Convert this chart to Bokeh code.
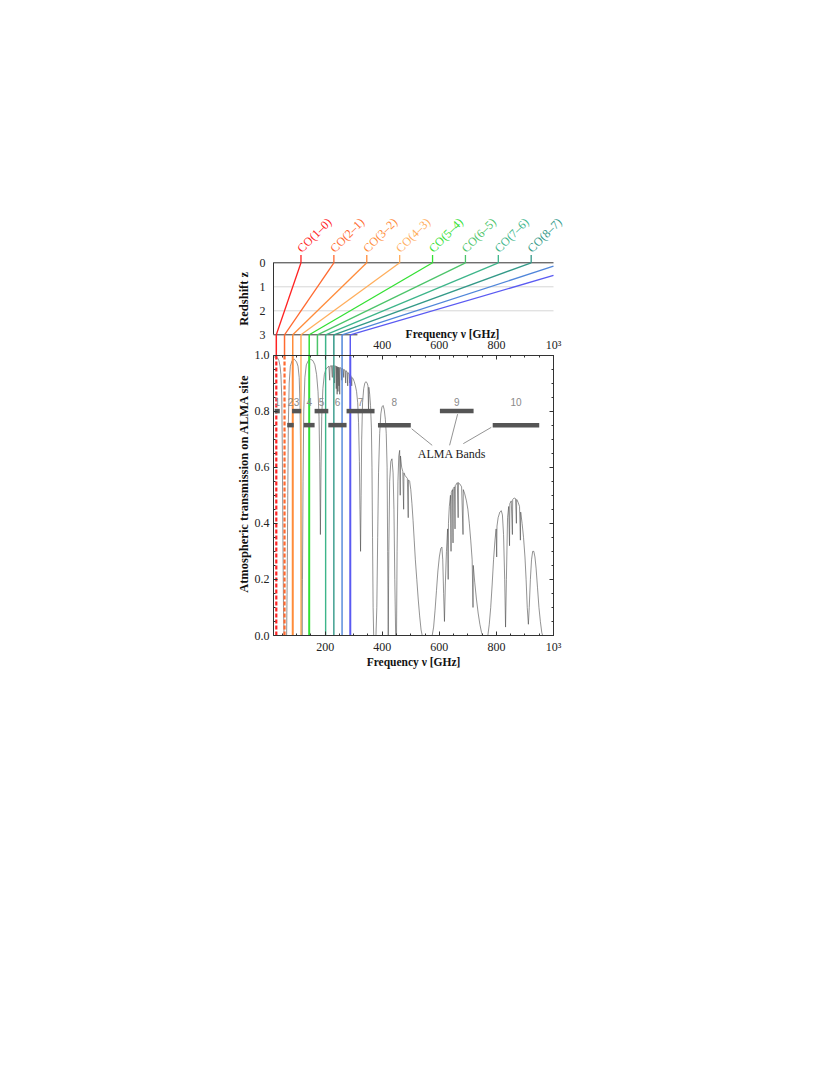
import math
from bokeh.plotting import figure
from bokeh.models import (Range1d, LinearAxis, SingleIntervalTicker, Label,
                          PrintfTickFormatter)
from bokeh.core.properties import value
from bokeh.embed import file_html
from bokeh.resources import INLINE

# ---------------- data ----------------
co_labels = ["CO(1–0)", "CO(2–1)", "CO(3–2)", "CO(4–3)",
             "CO(5–4)", "CO(6–5)", "CO(7–6)", "CO(8–7)"]
co_rest_ghz = [115.271, 230.538, 345.796, 461.041, 576.268,
               691.473, 806.652, 921.800, 1036.912, 1151.985]
z_top_panel_max = 3.0
redshift_grid = [1, 2]
co_colors = ["#ff2222", "#ff6a30", "#ff8c3a", "#ffae5c", "#33e033",
             "#4cc46a", "#3db58a", "#339988", "#5086da", "#5a5af2"]

atm_freq = [
    20, 24, 28, 33, 38, 42, 45, 48, 50, 52, 54, 56,
    65, 67, 69, 71, 74, 78, 84, 92, 100, 105, 109, 112, 115, 117, 118.7,
    120.5, 122.5, 125, 129, 134, 141, 149, 157, 164, 170, 175, 178.5, 181,
    183.3, 185.5, 188, 192, 197, 203, 210,
    213, 216, 217, 222, 225, 226, 230, 233, 234, 237, 239, 240, 242, 243,
    245, 246, 248, 249, 251, 252, 256, 258, 259, 263, 265, 266, 270, 272,
    273, 277, 279, 280, 284, 286, 287, 291, 293, 294, 298, 302, 306, 310,
    314, 317, 320, 322, 324, 326, 328, 331, 335, 339, 343, 347, 350, 352,
    353, 356, 359, 362, 364, 366, 368, 370,
    378, 381, 384, 387, 391, 395, 399, 403, 407, 411, 414, 417, 419, 421,
    423, 426, 430, 434, 438, 441, 444, 447, 450, 452, 455, 458, 461, 463,
    464, 468, 472, 475, 476, 480, 484, 488, 491, 492, 496, 500, 504, 508,
    512, 516, 521, 526, 531, 536, 540,
    575, 580, 585, 590, 595, 600, 605, 609, 612, 615, 618, 621, 625, 629,
    631, 632, 635, 639, 641, 642, 646, 648, 649, 653, 655, 656, 660, 663,
    666, 667, 672, 678, 683, 684, 689, 695, 700, 705, 710, 715, 718, 719,
    724, 730, 736, 742, 748, 752,
    770, 775, 780, 785, 790, 795, 799, 801, 802, 806, 812, 817, 821, 825,
    829, 832, 835, 839, 843, 846, 847, 852, 856, 857, 862, 867, 870, 871,
    876, 881, 884, 885, 890, 895, 900, 904, 908, 912, 915, 919, 923, 927,
    931, 935, 939, 944, 949, 954, 959, 962, 1000]
atm_trans = [
    0.99, 0.995, 0.995, 0.99, 0.98, 0.96, 0.93, 0.85, 0.65, 0.35, 0.10, 0.0,
    0.0, 0.20, 0.50, 0.75, 0.90, 0.96, 0.98, 0.985, 0.975, 0.96, 0.92, 0.82,
    0.55, 0.20, 0.0,
    0.20, 0.55, 0.80, 0.92, 0.965, 0.98, 0.985, 0.98, 0.965, 0.93, 0.87,
    0.78, 0.62,
    0.36, 0.60, 0.78, 0.88, 0.93, 0.95, 0.958,
    0.96, 0.91, 0.96, 0.962, 0.92, 0.962, 0.963, 0.90, 0.962, 0.96, 0.88,
    0.96, 0.86, 0.958,
    0.87, 0.957, 0.89, 0.956, 0.86, 0.955, 0.953, 0.91, 0.952, 0.95, 0.92,
    0.948, 0.945, 0.90,
    0.944, 0.94, 0.89, 0.937, 0.933, 0.90, 0.93, 0.925, 0.89, 0.92, 0.915,
    0.905, 0.89, 0.87,
    0.83, 0.76, 0.62, 0.45, 0.30, 0.50, 0.70, 0.83, 0.88, 0.90, 0.905, 0.90,
    0.89, 0.80,
    0.885, 0.86, 0.82, 0.74, 0.60, 0.35, 0.10, 0.0,
    0.0, 0.10, 0.35, 0.58, 0.72, 0.79, 0.815, 0.82, 0.805, 0.77, 0.72, 0.60,
    0.30, 0.0,
    0.30, 0.55, 0.62, 0.63, 0.58, 0.45, 0.20, 0.0, 0.0, 0.30, 0.55, 0.64,
    0.66, 0.50,
    0.64, 0.60, 0.585, 0.45, 0.58, 0.57, 0.565, 0.56, 0.42, 0.555, 0.55,
    0.52, 0.47, 0.41,
    0.34, 0.27, 0.20, 0.13, 0.07, 0.02, 0.0,
    0.0, 0.03, 0.09, 0.16, 0.23, 0.28, 0.31, 0.315, 0.27, 0.15, 0.05, 0.18,
    0.30, 0.38,
    0.20, 0.40, 0.46, 0.50, 0.30, 0.51, 0.52, 0.33, 0.525, 0.53, 0.38, 0.535,
    0.54, 0.545,
    0.42, 0.545, 0.54, 0.53, 0.36, 0.52, 0.505, 0.48, 0.45, 0.40, 0.34, 0.27,
    0.10, 0.25,
    0.19, 0.13, 0.08, 0.04, 0.01, 0.0,
    0.0, 0.04, 0.10, 0.18, 0.27, 0.34, 0.38, 0.28, 0.39, 0.42, 0.44, 0.445,
    0.43, 0.36,
    0.20, 0.03, 0.20, 0.42, 0.46, 0.32, 0.47, 0.48, 0.36, 0.485, 0.49, 0.488,
    0.40, 0.485,
    0.475, 0.46, 0.34, 0.44, 0.40, 0.35, 0.28, 0.20, 0.10, 0.04, 0.10, 0.20,
    0.27, 0.30,
    0.30, 0.28, 0.24, 0.17, 0.10, 0.05, 0.01, 0.0, 0.0]

band_names = ["1", "2", "3", "4", "5", "6", "7", "8", "9", "10"]
band_lo_ghz = [23, 67, 84, 125, 163, 211, 275, 385, 602, 787]
band_hi_ghz = [41, 90, 116, 163, 211, 275, 373, 500, 720, 950]
band_level = [0.80, 0.75, 0.80, 0.75, 0.80, 0.75, 0.80, 0.75, 0.80, 0.75]
band_label_level = 0.833

alma_text = "ALMA Bands"
alma_text_pos = (644, 0.647)
leader_x0 = [503, 664, 782]
leader_y0 = [0.737, 0.789, 0.742]
leader_x1 = [575, 636, 684]
leader_y1 = [0.678, 0.678, 0.684]

x_ticks_top_labels = {200: "", 1000: "10³"}
x_ticks_bottom_labels = {1000: "10³"}

# ---------------- layout (canvas pixels) ----------------
X_START, X_END = 19.0, 1000.0          # frequency span of both panels
PX_X_START, PX_X_END = 273.0, 553.0
FRAME_L, FRAME_R, FRAME_T, FRAME_B = 233, 565, 192, 676
PX_PER_GHZ = (PX_X_END - PX_X_START) / (X_END - X_START)
Y_T0, PX_PER_T = 635.0, 280.5          # transmission scale
Y_Z0, PX_PER_Z = 262.3, 24.0           # redshift scale


def x_of_px(px):
    return X_START + (px - PX_X_START) / PX_PER_GHZ


def t_of_px(py):
    return (Y_T0 - py) / PX_PER_T


def z_of_px(py):
    return (py - Y_Z0) / PX_PER_Z


def t_of_z(z):
    return t_of_px(Y_Z0 + z * PX_PER_Z)


SERIF = "Liberation Serif"
INK = "#333333"

p = figure(width=600, height=680, output_backend="svg", toolbar_location=None,
           x_range=Range1d(x_of_px(FRAME_L), x_of_px(FRAME_R)),
           y_range=Range1d(t_of_px(FRAME_B), t_of_px(FRAME_T)),
           x_axis_type=None, y_axis_type=None,
           min_border_left=FRAME_L, min_border_right=600 - FRAME_R,
           min_border_top=FRAME_T, min_border_bottom=680 - FRAME_B)
p.extra_y_ranges = {"z": Range1d(start=z_of_px(FRAME_B), end=z_of_px(FRAME_T))}
p.outline_line_color = None
p.background_fill_color = "white"
p.border_fill_color = "white"


def style_axis(ax, tick_in=4, minor_in=2):
    ax.major_tick_in = tick_in
    ax.major_tick_out = 0
    ax.minor_tick_in = minor_in
    ax.minor_tick_out = 0
    ax.axis_line_color = INK
    ax.major_tick_line_color = INK
    ax.minor_tick_line_color = INK
    ax.major_label_text_font = SERIF
    ax.major_label_text_font_size = "12px"
    ax.major_label_text_color = "#222222"


# bottom frequency axis (at T = 0)
xb = LinearAxis(ticker=SingleIntervalTicker(interval=200, num_minor_ticks=4),
                bounds=(X_START, X_END), fixed_location=0.0,
                major_label_overrides=x_ticks_bottom_labels)
style_axis(xb)
xb.major_label_standoff = 4
p.add_layout(xb, "below")

# top frequency axis of the transmission panel (at T = 1)
xt = LinearAxis(ticker=SingleIntervalTicker(interval=200, num_minor_ticks=4),
                bounds=(X_START, X_END), fixed_location=1.0,
                major_label_overrides=x_ticks_top_labels)
style_axis(xt)
xt.major_label_standoff = 3
p.add_layout(xt, "above")

# left transmission axis
yl = LinearAxis(ticker=SingleIntervalTicker(interval=0.2, num_minor_ticks=4),
                bounds=(0, 1), fixed_location=X_START,
                formatter=PrintfTickFormatter(format="%.1f"))
style_axis(yl)
yl.major_label_standoff = 4
p.add_layout(yl, "left")

# right border axis
yr = LinearAxis(ticker=SingleIntervalTicker(interval=0.2, num_minor_ticks=4),
                bounds=(0, 1), fixed_location=X_END)
style_axis(yr)
yr.major_label_text_alpha = 0
p.add_layout(yr, "right")

# redshift axis
yz = LinearAxis(y_range_name="z", ticker=SingleIntervalTicker(interval=1, num_minor_ticks=0),
                bounds=(0, z_top_panel_max), fixed_location=X_START)
style_axis(yz, tick_in=0, minor_in=0)
yz.major_label_standoff = 8
p.add_layout(yz, "left")


def title_label(x, y, text, angle=0.0, size="12px", y_range_name="default"):
    return Label(x=x, y=y, text=text, angle=angle, y_range_name=y_range_name,
                 text_align="center", text_baseline="middle", text_font=SERIF,
                 text_font_style="bold", text_font_size=size, text_color="#111111")


# axis titles
p.add_layout(title_label(x_of_px(243.5), 0.542, "Atmospheric transmission on ALMA site",
                         angle=math.pi / 2, size="12.5px"))
p.add_layout(title_label(x_of_px(243.5), z_top_panel_max / 2, "Redshift z",
                         angle=math.pi / 2, size="12.5px", y_range_name="z"))
p.add_layout(title_label((X_START + X_END) / 2, t_of_px(661), "Frequency ν [GHz]",
                         size="11.5px"))
p.add_layout(title_label(646, t_of_px(333), "Frequency ν [GHz]", size="11.5px"))

# redshift grid lines, z = 0 and z = 3 lines
p.multi_line(xs=[[X_START, X_END]] * len(redshift_grid),
             ys=[[g, g] for g in redshift_grid], y_range_name="z",
             line_color="#d6d6d6", line_width=1)
p.line([X_START, X_END], [0, 0], y_range_name="z", line_color=INK, line_width=1)

co_z3 = [nu / (1 + z_top_panel_max) for nu in co_rest_ghz]
p.line([X_START, max(co_z3) + 25], [z_top_panel_max, z_top_panel_max],
       y_range_name="z", line_color=INK, line_width=1)

# CO tracks in the redshift panel (clipped at the right border)
seg_x0, seg_z0 = [], []
for nu, nu3 in zip(co_rest_ghz, co_z3):
    if nu > X_END:
        seg_x0.append(X_END)
        seg_z0.append(z_top_panel_max * (nu - X_END) / (nu - nu3))
    else:
        seg_x0.append(nu)
        seg_z0.append(0.0)
p.segment(x0=seg_x0, y0=seg_z0, x1=co_z3,
          y1=[z_top_panel_max] * len(co_rest_ghz), y_range_name="z",
          line_color=co_colors, line_width=1.3)
n_lab = len(co_labels)
p.segment(x0=co_rest_ghz[:n_lab], y0=[0] * n_lab, x1=co_rest_ghz[:n_lab],
          y1=[-0.33] * n_lab, y_range_name="z", line_color=co_colors[:n_lab],
          line_width=1.3)
p.text(x=[nu - 6 for nu in co_rest_ghz[:n_lab]], y=[-0.52] * n_lab, text=co_labels,
       y_range_name="z", angle=0.785, text_align="left", text_baseline="middle",
       text_color=co_colors[:n_lab], text_font=value(SERIF),
       text_font_size=value("12px"))

# vertical CO lines: gap between the panels
t3 = t_of_z(z_top_panel_max)
p.segment(x0=co_z3, y0=[t3] * len(co_z3), x1=co_z3, y1=[1.0] * len(co_z3),
          line_color=co_colors, line_width=1.5)

# atmospheric transmission
p.line(atm_freq, atm_trans, line_color="#4a4a4a", line_width=0.6)

# vertical CO lines inside the transmission panel
dashed_idx = [0, 1]
hidden_idx = [5]
for i, nu in enumerate(co_z3):
    if i in hidden_idx:
        continue
    if i in dashed_idx:
        p.line([nu, nu], [0, 1.0], line_color=co_colors[i], line_width=2.2,
               line_dash="4 2")
    else:
        p.line([nu, nu], [0, 1.0], line_color=co_colors[i],
               line_width=2.0 if i in (2, 4, 9) else 1.4)

# ALMA bands
p.segment(x0=band_lo_ghz, y0=band_level, x1=band_hi_ghz, y1=band_level,
          line_color="#555555", line_width=4.5, line_cap="butt")
band_centers = [(a + b) / 2 for a, b in zip(band_lo_ghz, band_hi_ghz)]
p.text(x=band_centers, y=[band_label_level] * len(band_names), text=band_names,
       text_align="center", text_baseline="middle", text_color="#8a8a8a",
       text_font=value("Liberation Sans"), text_font_size=value("10px"))

p.segment(x0=leader_x0, y0=leader_y0, x1=leader_x1, y1=leader_y1,
          line_color="#777777", line_width=0.8)
p.text(x=[alma_text_pos[0]], y=[alma_text_pos[1]], text=[alma_text],
       text_align="center", text_baseline="middle", text_color="#222222",
       text_font=value(SERIF), text_font_size=value("12px"))

open("out.html", "w").write(file_html(p, INLINE))
